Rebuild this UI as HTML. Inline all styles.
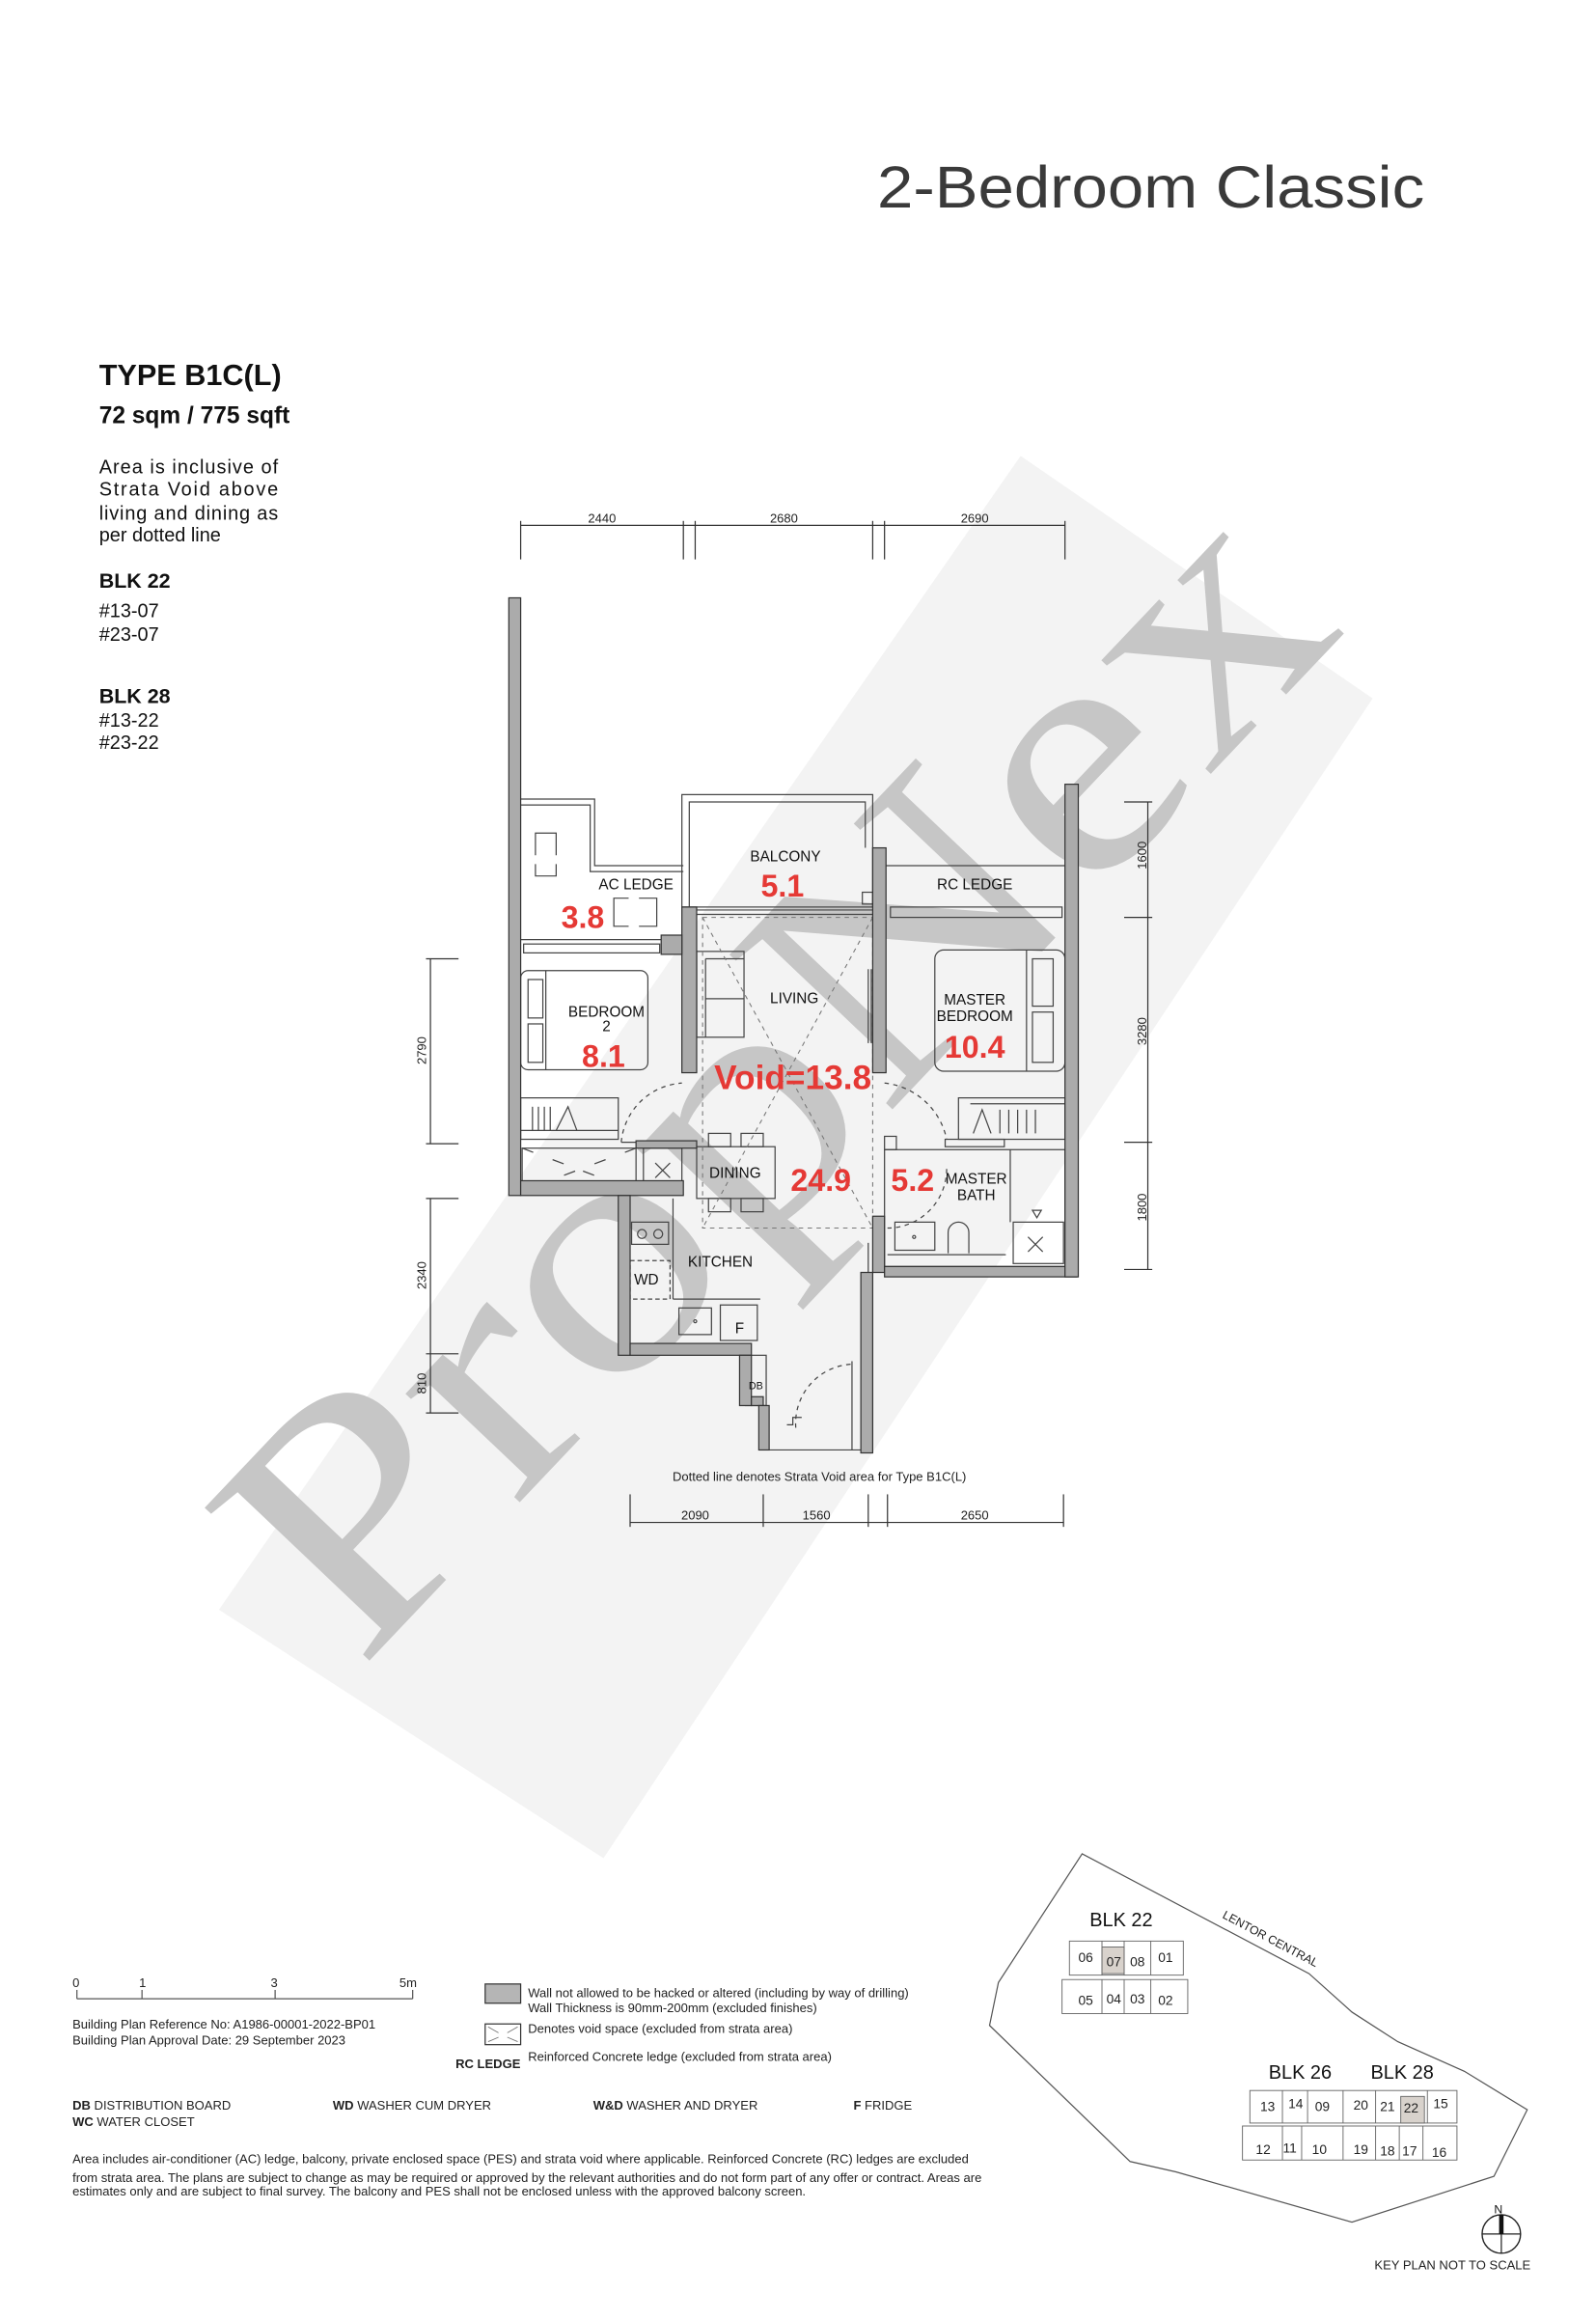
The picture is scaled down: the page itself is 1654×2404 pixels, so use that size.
<!DOCTYPE html>
<html><head><meta charset="utf-8"><style>
html,body{margin:0;padding:0;background:#fff;}
svg{display:block;}
text{font-family:"Liberation Sans",sans-serif;}
</style></head><body>
<svg width="1654" height="2404" viewBox="0 0 1079 1568" xmlns="http://www.w3.org/2000/svg">
<rect x="0" y="0" width="1079" height="1568" fill="#fff"/>
<!-- watermark band -->
<polygon points="148,1088 690,308 928,472 408,1256" fill="#f3f3f3"/>
<text x="548" y="790" transform="rotate(-46.5 548 750)" text-anchor="middle" textLength="970" lengthAdjust="spacingAndGlyphs" style="font-family:'Liberation Serif',serif;font-size:232px" fill="#c6c6c6">PropNex</text>

<!-- title -->
<text x="593" y="140" textLength="370" lengthAdjust="spacingAndGlyphs" style="font-size:40px" fill="#3a3a3a">2-Bedroom Classic</text>
<text x="67" y="260" style="font-size:20px;font-weight:bold" fill="#111">TYPE B1C(L)</text>
<text x="67" y="286" style="font-size:16px;font-weight:bold" fill="#111">72 sqm / 775 sqft</text>
<g style="font-size:13px" fill="#111">
<text x="67" y="320" textLength="121">Area is inclusive of</text>
<text x="67" y="335" textLength="121">Strata Void above</text>
<text x="67" y="351" textLength="121">living and dining as</text>
<text x="67" y="366">per dotted line</text>
<text x="67" y="397" style="font-weight:bold;font-size:14px">BLK 22</text>
<text x="67" y="417">#13-07</text>
<text x="67" y="433">#23-07</text>
<text x="67" y="475" style="font-weight:bold;font-size:14px">BLK 28</text>
<text x="67" y="491">#13-22</text>
<text x="67" y="506">#23-22</text>
</g>

<!-- dimension lines -->
<g stroke="#333" stroke-width="0.8" fill="none">
<line x1="352" y1="355" x2="720" y2="355"/>
<line x1="352" y1="352" x2="352" y2="378"/><line x1="462" y1="352" x2="462" y2="378"/>
<line x1="470" y1="352" x2="470" y2="378"/><line x1="590" y1="352" x2="590" y2="378"/>
<line x1="598" y1="352" x2="598" y2="378"/><line x1="720" y1="352" x2="720" y2="378"/>
<line x1="291" y1="648" x2="291" y2="773"/><line x1="288" y1="648" x2="310" y2="648"/><line x1="288" y1="773" x2="310" y2="773"/>
<line x1="291" y1="810" x2="291" y2="955"/><line x1="288" y1="810" x2="310" y2="810"/><line x1="288" y1="915" x2="310" y2="915"/><line x1="288" y1="955" x2="310" y2="955"/>
<line x1="776" y1="542" x2="776" y2="858"/><line x1="760" y1="542" x2="779" y2="542"/><line x1="760" y1="620" x2="779" y2="620"/><line x1="760" y1="772" x2="779" y2="772"/><line x1="760" y1="858" x2="779" y2="858"/>
<line x1="426" y1="1029" x2="719" y2="1029"/>
<line x1="426" y1="1010" x2="426" y2="1032"/><line x1="516" y1="1010" x2="516" y2="1032"/><line x1="587" y1="1010" x2="587" y2="1032"/><line x1="600" y1="1010" x2="600" y2="1032"/><line x1="719" y1="1010" x2="719" y2="1032"/>
</g>
<g style="font-size:8.5px" fill="#222" text-anchor="middle">
<text x="407" y="353">2440</text><text x="530" y="353">2680</text><text x="659" y="353">2690</text>
<text x="470" y="1027">2090</text><text x="552" y="1027">1560</text><text x="659" y="1027">2650</text>
<text transform="translate(288 710) rotate(-90)">2790</text>
<text transform="translate(288 862) rotate(-90)">2340</text>
<text transform="translate(288 935) rotate(-90)">810</text>
<text transform="translate(775 578) rotate(-90)">1600</text>
<text transform="translate(775 697) rotate(-90)">3280</text>
<text transform="translate(775 816) rotate(-90)">1800</text>
<text x="554" y="1001">Dotted line denotes Strata Void area for Type B1C(L)</text>
</g>

<!-- thin plan lines -->
<g stroke="#444" stroke-width="0.8" fill="none">
<polyline points="352,540 402,540 402,585 462,585"/>
<polyline points="352,544 399,544 399,589 462,589"/>
<line x1="352" y1="635" x2="447" y2="635"/>
<rect x="354" y="638" width="92" height="6"/>
<polyline points="362,578 362,563 376,563 376,578"/><polyline points="362,584 362,592 376,592 376,584"/>
<polyline points="425,607 415,607 415,626 425,626"/><polyline points="432,607 444,607 444,626 432,626"/>
<rect x="461" y="537" width="129" height="76"/>
<polyline points="466,613 466,542 585,542 585,573"/>
<line x1="471" y1="615" x2="590" y2="615"/><line x1="471" y1="618" x2="590" y2="618"/>
<rect x="583" y="603" width="7" height="8"/>
<line x1="599" y1="585" x2="720" y2="585"/>
<rect x="602" y="613" width="116" height="7"/>
<rect x="352" y="656" width="86" height="67" rx="5"/>
<line x1="369" y1="656" x2="369" y2="723"/>
<rect x="357" y="662" width="10" height="26"/><rect x="357" y="692" width="10" height="26"/>
<rect x="352" y="742" width="66" height="28"/>
<line x1="352" y1="764" x2="418" y2="764"/>
<line x1="360" y1="748" x2="360" y2="764"/><line x1="364" y1="748" x2="364" y2="764"/><line x1="368" y1="748" x2="368" y2="764"/><line x1="372" y1="748" x2="372" y2="764"/><polyline points="376,764 384,748 390,764"/>
<rect x="471" y="643" width="32" height="58"/>
<line x1="477" y1="648" x2="477" y2="701"/><line x1="477" y1="648" x2="503" y2="648"/><line x1="477" y1="675" x2="503" y2="675"/>
<rect x="632" y="642" width="88" height="82" rx="6"/>
<line x1="694" y1="642" x2="694" y2="724"/>
<rect x="698" y="648" width="14" height="32"/><rect x="698" y="684" width="14" height="34"/>
<rect x="648" y="742" width="72" height="28"/>
<line x1="656" y1="746" x2="720" y2="746"/>
<polyline points="658,766 664,750 670,766"/><line x1="676" y1="750" x2="676" y2="766"/><line x1="682" y1="750" x2="682" y2="766"/><line x1="688" y1="750" x2="688" y2="766"/><line x1="694" y1="750" x2="694" y2="766"/><line x1="700" y1="750" x2="700" y2="766"/>
<rect x="353" y="776" width="77" height="29"/>
<line x1="353" y1="776" x2="430" y2="805" stroke-dasharray="8,14"/><line x1="430" y1="776" x2="353" y2="805" stroke-dasharray="8,14"/>
<rect x="435" y="776" width="26" height="29"/>
<line x1="443" y1="786" x2="453" y2="796"/><line x1="453" y1="786" x2="443" y2="796"/>
<rect x="471" y="775" width="53" height="35"/>
<rect x="479" y="766" width="15" height="9"/><rect x="501" y="766" width="15" height="9"/>
<rect x="479" y="810" width="15" height="9"/><rect x="501" y="810" width="15" height="9"/>
<line x1="455" y1="810" x2="455" y2="878"/>
<line x1="455" y1="878" x2="514" y2="878"/>
<rect x="427" y="826" width="25" height="15"/>
<circle cx="434" cy="834" r="3"/><circle cx="445" cy="834" r="3"/>
<rect x="426" y="852" width="27" height="26" stroke-dasharray="3,2"/>
<rect x="459" y="884" width="22" height="18"/><circle cx="470" cy="893" r="1"/>
<rect x="487" y="882" width="25" height="24"/>
<rect x="504" y="916" width="14" height="34"/>
<line x1="576" y1="920" x2="576" y2="980"/>
<path d="M538 965 A40 40 0 0 1 576 922" stroke-dasharray="3,3"/>
<polyline points="532,963 536,963 536,958 542,958"/>
<line x1="520" y1="980" x2="586" y2="980"/>
<rect x="598" y="777" width="122" height="79"/>
<line x1="683" y1="777" x2="683" y2="826"/>
<rect x="685" y="826" width="34" height="28"/>
<line x1="695" y1="836" x2="705" y2="846"/><line x1="705" y1="836" x2="695" y2="846"/>
<polygon points="698,818 704,818 701,823"/>
<rect x="605" y="826" width="27" height="19"/><circle cx="618" cy="836" r="1"/>
<path d="M641 847 L641 833 A7 7 0 0 1 655 833 L655 847"/>
<line x1="600" y1="848" x2="680" y2="848"/>
<rect x="639" y="770" width="40" height="5"/>
<rect x="598" y="768" width="8" height="9"/>
<path d="M420 772 A44 44 0 0 1 461 732" stroke-dasharray="3,3"/>
<line x1="420" y1="772" x2="462" y2="772"/>
<path d="M598 732 A48 48 0 0 1 640 770" stroke-dasharray="3,3"/>
<path d="M640 790 A40 40 0 0 1 600 830" stroke-dasharray="3,3"/>
<line x1="589" y1="705" x2="589" y2="655"/><line x1="587" y1="705" x2="587" y2="655"/>
<line x1="587" y1="840" x2="587" y2="870"/>
</g>
<g stroke="#777" stroke-width="0.7" fill="none" stroke-dasharray="3,3">
<rect x="475" y="620" width="115" height="210"/>
<line x1="475" y1="620" x2="590" y2="830"/><line x1="590" y1="620" x2="475" y2="830"/>
</g>

<g fill="#ababab" stroke="#333" stroke-width="0.8">
<rect x="344" y="404" width="8" height="404"/>
<rect x="352" y="798" width="110" height="10"/>
<rect x="418" y="808" width="8" height="108"/>
<rect x="426" y="908" width="82" height="8"/>
<rect x="500" y="916" width="8" height="34"/>
<rect x="508" y="944" width="8" height="6"/>
<rect x="513" y="950" width="7" height="30"/>
<rect x="430" y="771" width="41" height="5"/>
<rect x="461" y="613" width="10" height="112"/>
<rect x="447" y="632" width="14" height="13"/>
<rect x="590" y="573" width="9" height="152"/>
<rect x="590" y="822" width="8" height="38"/>
<rect x="582" y="860" width="8" height="122"/>
<rect x="598" y="856" width="130" height="7"/>
<rect x="720" y="530" width="9" height="333"/>
</g>

<g style="font-size:10px" fill="#111" text-anchor="middle">
<text x="531" y="582">BALCONY</text>
<text x="430" y="601">AC LEDGE</text>
<text x="659" y="601">RC LEDGE</text>
<text x="410" y="687">BEDROOM</text>
<text x="410" y="697">2</text>
<text x="537" y="678">LIVING</text>
<text x="659" y="679">MASTER</text>
<text x="659" y="690">BEDROOM</text>
<text x="497" y="796">DINING</text>
<text x="660" y="800">MASTER</text>
<text x="660" y="811">BATH</text>
<text x="487" y="856">KITCHEN</text>
<text x="437" y="868">WD</text>
<text x="500" y="901">F</text>
<text x="511" y="939" style="font-size:7px">DB</text>
</g>
<g style="font-family:'Liberation Sans Narrow','Liberation Sans',sans-serif;font-weight:900;font-size:21px" fill="#e53935" text-anchor="middle">
<text x="529" y="606">5.1</text>
<text x="394" y="627">3.8</text>
<text x="408" y="721">8.1</text>
<text x="659" y="715">10.4</text>
<text x="536" y="736" style="font-size:23px">Void=13.8</text>
<text x="555" y="805">24.9</text>
<text x="617" y="805">5.2</text>
</g>

<g stroke="#555" stroke-width="0.8" fill="none">
<line x1="52" y1="1351" x2="279" y2="1351"/>
<line x1="52" y1="1345" x2="52" y2="1351"/><line x1="96" y1="1345" x2="96" y2="1351"/><line x1="186" y1="1345" x2="186" y2="1351"/><line x1="279" y1="1345" x2="279" y2="1351"/>
</g>
<g style="font-size:8.5px" fill="#222">
<text x="49" y="1343">0</text><text x="94" y="1343">1</text><text x="183" y="1343">3</text><text x="270" y="1343">5m</text>
<text x="49" y="1371">Building Plan Reference No: A1986-00001-2022-BP01</text>
<text x="49" y="1382">Building Plan Approval Date: 29 September 2023</text>
</g>
<rect x="328" y="1341" width="24" height="13" fill="#b5b5b5" stroke="#333" stroke-width="0.8"/>
<rect x="328" y="1368" width="24" height="14" fill="#fff" stroke="#333" stroke-width="0.8"/>
<g stroke="#777" stroke-width="0.6"><line x1="330" y1="1370" x2="337" y2="1374"/><line x1="350" y1="1370" x2="343" y2="1374"/><line x1="330" y1="1380" x2="337" y2="1377"/><line x1="350" y1="1380" x2="343" y2="1377"/></g>
<g style="font-size:8.5px" fill="#222">
<text x="357" y="1350">Wall not allowed to be hacked or altered (including by way of drilling)</text>
<text x="357" y="1360">Wall Thickness is 90mm-200mm (excluded finishes)</text>
<text x="357" y="1374">Denotes void space (excluded from strata area)</text>
<text x="308" y="1398" style="font-weight:bold">RC LEDGE</text>
<text x="357" y="1393">Reinforced Concrete ledge (excluded from strata area)</text>
<text x="49" y="1426"><tspan font-weight="bold">DB</tspan>   DISTRIBUTION BOARD</text>
<text x="225" y="1426"><tspan font-weight="bold">WD</tspan> WASHER CUM DRYER</text>
<text x="401" y="1426"><tspan font-weight="bold">W&amp;D</tspan> WASHER AND DRYER</text>
<text x="577" y="1426"><tspan font-weight="bold">F</tspan> FRIDGE</text>
<text x="49" y="1437"><tspan font-weight="bold">WC</tspan> WATER CLOSET</text>
<text x="49" y="1462">Area includes air-conditioner (AC) ledge, balcony, private enclosed space (PES) and strata void where applicable. Reinforced Concrete (RC) ledges are excluded</text>
<text x="49" y="1475">from strata area. The plans are subject to change as may be required or approved by the relevant authorities and do not form part of any offer or contract. Areas are</text>
<text x="49" y="1484">estimates only and are subject to final survey. The balcony and PES shall not be enclosed unless with the approved balcony screen.</text>
</g>

<polygon points="731.6,1253 885,1334 914,1360 945,1380 990,1400 1032.5,1426 1010,1471 914,1502 795,1468 764,1461 669,1369 675,1340" fill="none" stroke="#555" stroke-width="0.8"/>
<text transform="translate(826 1296) rotate(28)" style="font-size:8px" fill="#222">LENTOR CENTRAL</text>
<g fill="#fff" stroke="#666" stroke-width="0.6">
<rect x="723" y="1312" width="77" height="23"/>
<rect x="718" y="1338" width="85" height="23"/>
<rect x="845" y="1413" width="140" height="22"/>
<rect x="840" y="1437" width="145" height="23"/>
</g>
<rect x="745" y="1316" width="15" height="18" fill="#d8d2cc" stroke="#666" stroke-width="0.6"/>
<rect x="947" y="1417" width="16" height="18" fill="#d8d2cc" stroke="#666" stroke-width="0.6"/>
<g stroke="#666" stroke-width="0.6">
<line x1="745" y1="1312" x2="745" y2="1335"/><line x1="760" y1="1312" x2="760" y2="1335"/><line x1="778" y1="1312" x2="778" y2="1335"/>
<line x1="745" y1="1338" x2="745" y2="1361"/><line x1="760" y1="1338" x2="760" y2="1361"/><line x1="778" y1="1338" x2="778" y2="1361"/>
<line x1="867" y1="1413" x2="867" y2="1435"/><line x1="884" y1="1413" x2="884" y2="1435"/><line x1="908" y1="1413" x2="908" y2="1435"/><line x1="930" y1="1413" x2="930" y2="1435"/><line x1="965" y1="1413" x2="965" y2="1435"/>
<line x1="867" y1="1437" x2="867" y2="1460"/><line x1="880" y1="1437" x2="880" y2="1460"/><line x1="908" y1="1437" x2="908" y2="1460"/><line x1="930" y1="1437" x2="930" y2="1460"/><line x1="946" y1="1437" x2="946" y2="1460"/><line x1="962" y1="1437" x2="962" y2="1460"/>
</g>
<g style="font-size:9px" fill="#222" text-anchor="middle">
<text x="734" y="1326">06</text><text x="753" y="1329">07</text><text x="769" y="1329">08</text><text x="788" y="1326">01</text>
<text x="734" y="1355">05</text><text x="753" y="1354">04</text><text x="769" y="1354">03</text><text x="788" y="1355">02</text>
<text x="857" y="1427">13</text><text x="876" y="1425">14</text><text x="894" y="1427">09</text><text x="920" y="1426">20</text><text x="938" y="1427">21</text><text x="954" y="1428">22</text><text x="974" y="1425">15</text>
<text x="854" y="1456">12</text><text x="872" y="1455">11</text><text x="892" y="1456">10</text><text x="920" y="1456">19</text><text x="938" y="1457">18</text><text x="953" y="1457">17</text><text x="973" y="1458">16</text>
</g>
<g style="font-size:13px" fill="#111" text-anchor="middle">
<text x="758" y="1302">BLK 22</text><text x="879" y="1405">BLK 26</text><text x="948" y="1405">BLK 28</text>
</g>
<circle cx="1015" cy="1510" r="13" fill="none" stroke="#222" stroke-width="0.9"/>
<line x1="1002" y1="1510" x2="1028" y2="1510" stroke="#222" stroke-width="0.8"/>
<line x1="1015" y1="1497" x2="1015" y2="1523" stroke="#222" stroke-width="0.8"/>
<rect x="1013.5" y="1497" width="3" height="13" fill="#111"/>
<text x="1013" y="1496" style="font-size:8px" fill="#111" text-anchor="middle">N</text>
<text x="982" y="1534" style="font-size:8.5px" fill="#222" text-anchor="middle">KEY PLAN NOT TO SCALE</text>
</svg>
</body></html>
